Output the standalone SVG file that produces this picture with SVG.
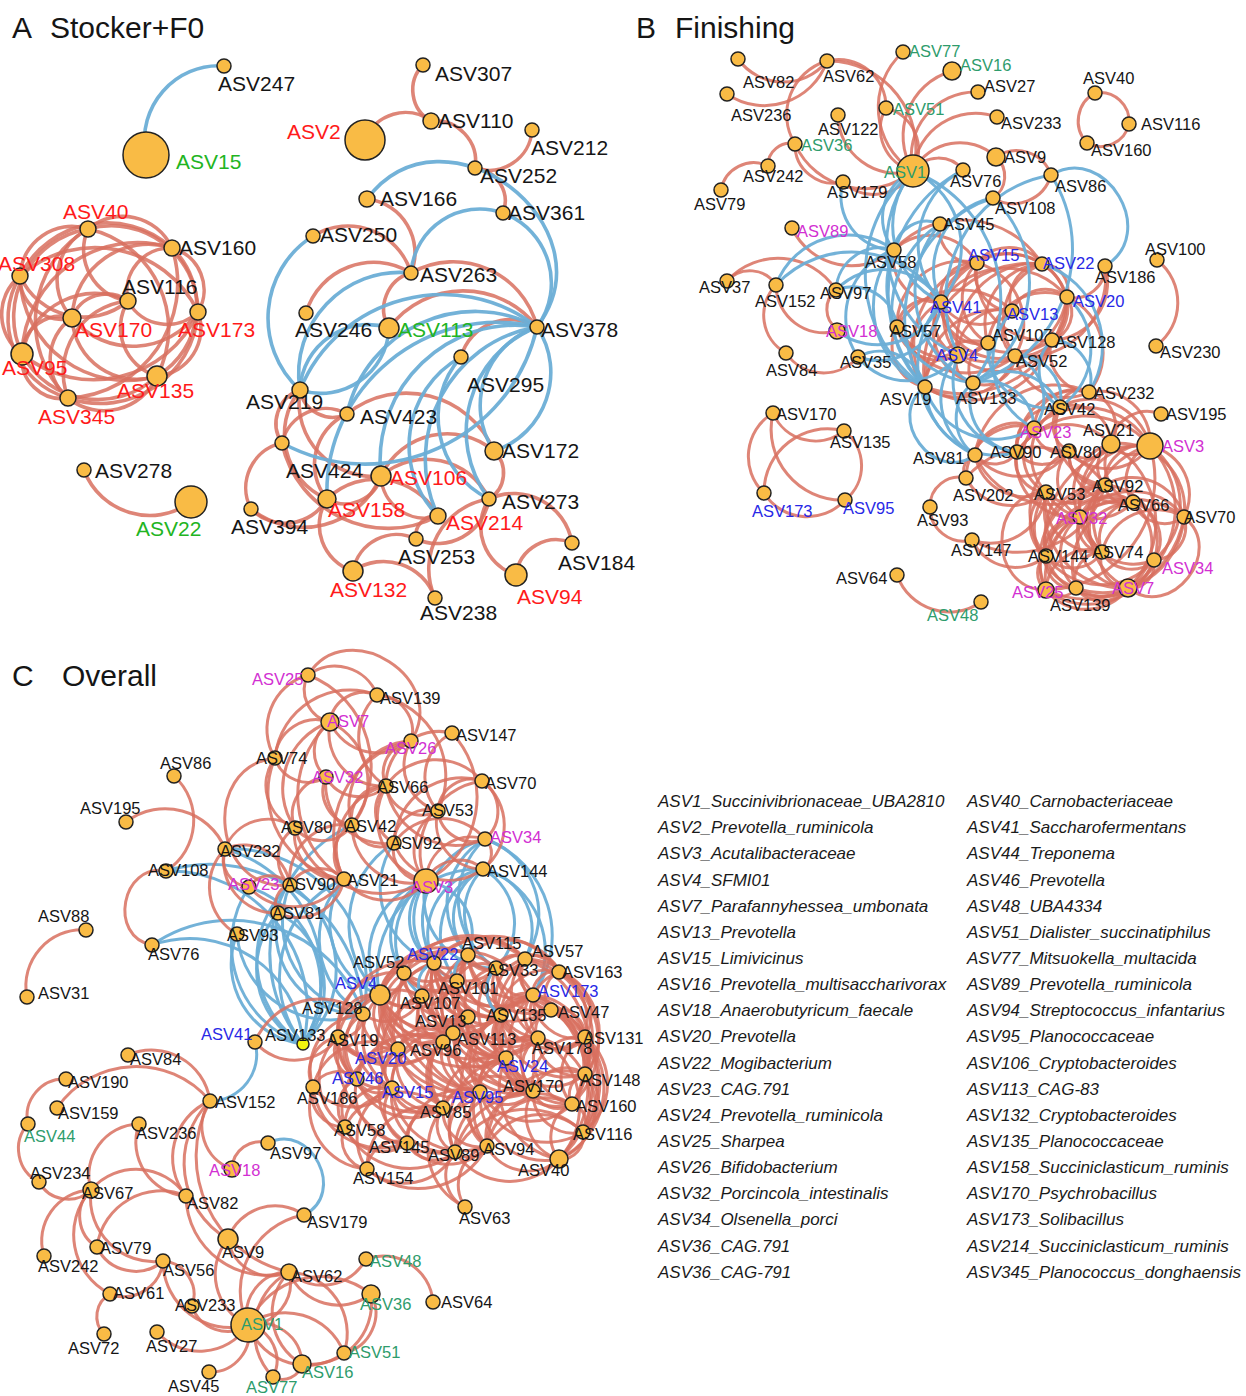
<svg xmlns="http://www.w3.org/2000/svg" xmlns:xlink="http://www.w3.org/1999/xlink" width="1246" height="1396" viewBox="0 0 1246 1396">
<style>
.t{font-family:"Liberation Sans",Arial,sans-serif;fill:#151515}
.ti{font-size:30px}
.la{font-size:21px}
.lb{font-size:16.5px}
.rd{fill:#FF1A1A}.gr{fill:#22B422}.tl{fill:#2E9C6C}.bl{fill:#2828E6}.mg{fill:#D22FD2}
circle{fill:#F9BB45;stroke:#222;stroke-width:1.5}
.er{stroke:#D8705F;stroke-opacity:.85;fill:none}
.eb{stroke:#6BAED6;stroke-opacity:.95;fill:none}
.lg{font-family:"Liberation Sans",Arial,sans-serif;font-style:italic;font-size:17px;fill:#1a1a1a}
</style>
<defs>
<path id="e" d="M0,0 C0.25,0.33 0.75,0.33 1,0" vector-effect="non-scaling-stroke"/>
<path id="g" d="M0,0 C0,0.6 1,0.6 1,0" vector-effect="non-scaling-stroke"/>
</defs>
<rect width="1246" height="1396" fill="#fff"/>
<g id="titles" class="t ti">
<text x="12" y="38">A<tspan x="50">Stocker+F0</tspan></text>
<text x="636" y="38">B<tspan x="675">Finishing</tspan></text>
<text x="12" y="686">C<tspan x="62">Overall</tspan></text>
</g>
<g id="connectors">
<g id="edges-A-red" class="er" stroke-width="3.6">
<use href="#e" transform="matrix(-68,47,-47,-68,88,229)"/>
<use href="#e" transform="matrix(2,78,-78,2,20,276)"/>
<use href="#e" transform="matrix(46,44,-44,46,22,354)"/>
<use href="#e" transform="matrix(89,-22,22,89,68,398)"/>
<use href="#e" transform="matrix(41,-64,64,41,157,376)"/>
<use href="#e" transform="matrix(-26,-64,64,-26,198,312)"/>
<use href="#e" transform="matrix(-84,-19,19,-84,172,248)"/>
<use href="#e" transform="matrix(40,72,-72,40,88,229)"/>
<use href="#e" transform="matrix(-16,89,-89,-16,88,229)"/>
<use href="#e" transform="matrix(-110,-83,83,-110,198,312)"/>
<use href="#e" transform="matrix(-66,125,-125,-66,88,229)"/>
<use href="#e" transform="matrix(-69,-147,147,-69,157,376)"/>
<use href="#e" transform="matrix(-20,169,-169,-20,88,229)"/>
<use href="#e" transform="matrix(-152,28,-28,-152,172,248)"/>
<use href="#e" transform="matrix(-44,53,-53,-44,172,248)"/>
<use href="#e" transform="matrix(-100,70,-70,-100,172,248)"/>
<use href="#e" transform="matrix(-150,106,-106,-150,172,248)"/>
<use href="#e" transform="matrix(15,-128,128,15,157,376)"/>
<use href="#e" transform="matrix(104,-150,150,104,68,398)"/>
<use href="#e" transform="matrix(108,25,-25,108,20,276)"/>
<use href="#e" transform="matrix(52,42,-42,52,20,276)"/>
<use href="#e" transform="matrix(-178,-36,36,-178,198,312)"/>
<use href="#e" transform="matrix(137,100,-100,137,20,276)"/>
<use href="#e" transform="matrix(48,122,-122,48,20,276)"/>
<use href="#e" transform="matrix(-56,17,-17,-56,128,301)"/>
<use href="#e" transform="matrix(70,11,-11,70,128,301)"/>
<use href="#e" transform="matrix(-106,53,-53,-106,128,301)"/>
<use href="#e" transform="matrix(29,75,-75,29,128,301)"/>
<use href="#e" transform="matrix(-60,97,-97,-60,128,301)"/>
<use href="#e" transform="matrix(126,-6,6,126,72,318)"/>
<use href="#e" transform="matrix(-50,36,-36,-50,72,318)"/>
<use href="#e" transform="matrix(85,58,-58,85,72,318)"/>
<use href="#e" transform="matrix(-4,80,-80,-4,72,318)"/>
<use href="#e" transform="matrix(176,-42,42,176,22,354)"/>
<use href="#e" transform="matrix(130,-86,86,130,68,398)"/>
<use href="#e" transform="matrix(135,22,-22,135,22,354)"/>
<use href="#e" transform="matrix(107,32,-32,107,84,470)"/>
<use href="#e" transform="matrix(8,56,-56,8,423,65)"/>
<use href="#e" transform="matrix(-66,19,-19,-66,431,121)"/>
<use href="#e" transform="matrix(-44,-47,47,-44,475,168)"/>
<use href="#e" transform="matrix(57,-38,38,57,475,168)"/>
<use href="#e" transform="matrix(-28,-45,45,-28,503,213)"/>
<use href="#e" transform="matrix(-44,-74,74,-44,411,273)"/>
<use href="#e" transform="matrix(-98,-37,37,-98,411,273)"/>
<use href="#e" transform="matrix(-105,40,-40,-105,411,273)"/>
<use href="#e" transform="matrix(-22,55,-55,-22,411,273)"/>
<use href="#e" transform="matrix(-126,-54,54,-126,537,327)"/>
<use href="#e" transform="matrix(-148,1,-1,-148,537,327)"/>
<use href="#e" transform="matrix(-76,30,-30,-76,537,327)"/>
<use href="#e" transform="matrix(-18,53,-53,-18,300,390)"/>
<use href="#e" transform="matrix(27,109,-109,27,300,390)"/>
<use href="#e" transform="matrix(81,86,-86,81,300,390)"/>
<use href="#e" transform="matrix(47,24,-24,47,300,390)"/>
<use href="#e" transform="matrix(-65,29,-29,-65,347,414)"/>
<use href="#e" transform="matrix(-20,85,-85,-20,347,414)"/>
<use href="#e" transform="matrix(-147,-37,37,-147,494,451)"/>
<use href="#e" transform="matrix(156,73,-73,156,282,443)"/>
<use href="#e" transform="matrix(-31,66,-66,-31,282,443)"/>
<use href="#e" transform="matrix(130,-33,33,130,251,509)"/>
<use href="#e" transform="matrix(54,-23,23,54,327,499)"/>
<use href="#e" transform="matrix(-111,-17,17,-111,438,516)"/>
<use href="#e" transform="matrix(-108,-23,23,-108,489,499)"/>
<use href="#e" transform="matrix(-113,25,-25,-113,494,451)"/>
<use href="#e" transform="matrix(5,-48,48,5,489,499)"/>
<use href="#e" transform="matrix(-83,-44,44,-83,572,543)"/>
<use href="#e" transform="matrix(27,76,-76,27,489,499)"/>
<use href="#e" transform="matrix(-56,32,-32,-56,572,543)"/>
<use href="#e" transform="matrix(-63,32,-32,-63,416,539)"/>
<use href="#e" transform="matrix(73,-40,40,73,416,539)"/>
<use href="#e" transform="matrix(-82,-27,27,-82,435,598)"/>
<use href="#e" transform="matrix(-54,99,-99,-54,489,499)"/>
<use href="#e" transform="matrix(26,72,-72,26,327,499)"/>
<use href="#e" transform="matrix(76,-10,10,76,251,509)"/>
<use href="#e" transform="matrix(-22,23,-23,-22,438,516)"/>
<use href="#e" transform="matrix(57,40,-40,57,381,476)"/>
</g>
<g id="edges-A-blue" class="eb" stroke-width="3.6">
<use href="#e" transform="matrix(-78,89,-89,-78,224,66)"/>
<use href="#g" transform="matrix(-170,-128,128,-170,537,327)"/>
<use href="#e" transform="matrix(-92,60,-60,-92,503,213)"/>
<use href="#e" transform="matrix(-34,-114,114,-34,537,327)"/>
<use href="#e" transform="matrix(-13,154,-154,-13,313,236)"/>
<use href="#e" transform="matrix(-89,62,-62,-89,389,328)"/>
<use href="#e" transform="matrix(89,-62,62,89,300,390)"/>
<use href="#e" transform="matrix(-111,117,-117,-111,411,273)"/>
<use href="#e" transform="matrix(-237,63,-63,-237,537,327)"/>
<use href="#e" transform="matrix(255,-116,116,255,282,443)"/>
<use href="#e" transform="matrix(-210,172,-172,-210,537,327)"/>
<use href="#e" transform="matrix(-156,149,-149,-156,537,327)"/>
<use href="#e" transform="matrix(-99,189,-189,-99,537,327)"/>
<use href="#e" transform="matrix(-48,172,-172,-48,537,327)"/>
<use href="#e" transform="matrix(43,-124,124,43,494,451)"/>
<use href="#e" transform="matrix(-43,124,-124,-43,537,327)"/>
<use href="#e" transform="matrix(-190,87,-87,-190,537,327)"/>
<use href="#e" transform="matrix(28,142,-142,28,461,357)"/>
<use href="#e" transform="matrix(-23,159,-159,-23,461,357)"/>
</g>
<g id="edges-B-red" class="er" stroke-width="3">
<use href="#e" transform="matrix(10,119,-119,10,903,52)"/>
<use href="#e" transform="matrix(-39,100,-100,-39,952,71)"/>
<use href="#e" transform="matrix(-65,79,-79,-65,978,92)"/>
<use href="#e" transform="matrix(-84,54,-54,-84,997,117)"/>
<use href="#e" transform="matrix(-27,-63,63,-27,913,171)"/>
<use href="#e" transform="matrix(27,63,-63,27,886,108)"/>
<use href="#e" transform="matrix(75,56,-56,75,838,115)"/>
<use href="#e" transform="matrix(118,27,-27,118,795,144)"/>
<use href="#e" transform="matrix(-86,-110,110,-86,913,171)"/>
<use href="#e" transform="matrix(-59,-47,47,-59,886,108)"/>
<use href="#e" transform="matrix(89,2,-2,89,738,59)"/>
<use href="#e" transform="matrix(100,-33,33,100,727,94)"/>
<use href="#e" transform="matrix(-32,83,-83,-32,827,61)"/>
<use href="#e" transform="matrix(70,-11,11,70,843,182)"/>
<use href="#e" transform="matrix(48,38,-38,48,795,144)"/>
<use href="#e" transform="matrix(-27,22,-22,-27,795,144)"/>
<use href="#e" transform="matrix(-47,24,-24,-47,768,166)"/>
<use href="#e" transform="matrix(-83,14,-14,-83,996,157)"/>
<use href="#e" transform="matrix(-50,1,-1,-50,963,170)"/>
<use href="#e" transform="matrix(-55,-18,18,-55,1051,175)"/>
<use href="#e" transform="matrix(58,-23,23,58,993,198)"/>
<use href="#e" transform="matrix(3,-41,41,3,993,198)"/>
<use href="#e" transform="matrix(-34,-31,31,-34,1129,124)"/>
<use href="#e" transform="matrix(-8,50,-50,-8,1095,93)"/>
<use href="#e" transform="matrix(42,-19,19,42,1087,143)"/>
<use href="#e" transform="matrix(1,-86,86,1,1156,346)"/>
<use href="#e" transform="matrix(102,22,-22,102,792,228)"/>
<use href="#e" transform="matrix(-49,-4,4,-49,776,285)"/>
<use href="#e" transform="matrix(10,68,-68,10,776,285)"/>
<use href="#e" transform="matrix(72,4,-4,72,786,353)"/>
<use href="#e" transform="matrix(61,46,-46,61,776,285)"/>
<use href="#e" transform="matrix(1,39,-39,1,836,290)"/>
<use href="#e" transform="matrix(-109,-9,9,-109,836,290)"/>
<use href="#e" transform="matrix(71,18,-18,71,773,413)"/>
<use href="#e" transform="matrix(-9,80,-80,-9,773,413)"/>
<use href="#e" transform="matrix(72,87,-87,72,773,413)"/>
<use href="#e" transform="matrix(-80,62,-62,-80,844,431)"/>
<use href="#e" transform="matrix(81,7,-7,81,764,493)"/>
<use href="#e" transform="matrix(-1,-69,69,-1,845,500)"/>
<use href="#e" transform="matrix(84,27,-27,84,897,575)"/>
<use href="#e" transform="matrix(-65,-1,1,-65,1042,264)"/>
<use href="#e" transform="matrix(-90,-34,34,-90,1067,297)"/>
<use href="#e" transform="matrix(-36,39,-39,-36,977,263)"/>
<use href="#e" transform="matrix(35,48,-48,35,977,263)"/>
<use href="#e" transform="matrix(-80,64,-64,-80,977,263)"/>
<use href="#e" transform="matrix(11,80,-80,11,977,263)"/>
<use href="#e" transform="matrix(75,77,-77,75,977,263)"/>
<use href="#e" transform="matrix(-19,92,-92,-19,977,263)"/>
<use href="#e" transform="matrix(-38,-93,93,-38,1015,356)"/>
<use href="#e" transform="matrix(-52,124,-124,-52,977,263)"/>
<use href="#e" transform="matrix(-25,-33,33,-25,1067,297)"/>
<use href="#e" transform="matrix(-101,38,-38,-101,1042,264)"/>
<use href="#e" transform="matrix(-30,47,-47,-30,1042,264)"/>
<use href="#e" transform="matrix(-54,79,-79,-54,1042,264)"/>
<use href="#e" transform="matrix(-10,-76,76,-10,1052,340)"/>
<use href="#e" transform="matrix(-84,91,-91,-84,1042,264)"/>
<use href="#e" transform="matrix(-27,92,-92,-27,1042,264)"/>
<use href="#e" transform="matrix(-117,123,-123,-117,1042,264)"/>
<use href="#e" transform="matrix(-126,5,-5,-126,1067,297)"/>
<use href="#e" transform="matrix(-55,14,-14,-55,1067,297)"/>
<use href="#e" transform="matrix(-79,46,-46,-79,1067,297)"/>
<use href="#e" transform="matrix(109,-58,58,109,958,355)"/>
<use href="#e" transform="matrix(52,-59,59,52,1015,356)"/>
<use href="#e" transform="matrix(142,-90,90,142,925,387)"/>
<use href="#e" transform="matrix(15,-43,43,15,1052,340)"/>
<use href="#e" transform="matrix(71,9,-9,71,941,302)"/>
<use href="#e" transform="matrix(-44,25,-25,-44,941,302)"/>
<use href="#e" transform="matrix(47,41,-41,47,941,302)"/>
<use href="#e" transform="matrix(111,38,-38,111,941,302)"/>
<use href="#e" transform="matrix(17,53,-53,17,941,302)"/>
<use href="#e" transform="matrix(74,54,-54,74,941,302)"/>
<use href="#e" transform="matrix(-16,85,-85,-16,941,302)"/>
<use href="#e" transform="matrix(32,81,-81,32,941,302)"/>
<use href="#e" transform="matrix(-115,16,-16,-115,1012,311)"/>
<use href="#e" transform="matrix(-54,44,-44,-54,1012,311)"/>
<use href="#e" transform="matrix(-87,76,-76,-87,1012,311)"/>
<use href="#e" transform="matrix(3,45,-45,3,1012,311)"/>
<use href="#e" transform="matrix(91,16,-16,91,897,327)"/>
<use href="#e" transform="matrix(61,28,-28,61,897,327)"/>
<use href="#e" transform="matrix(118,29,-29,118,897,327)"/>
<use href="#e" transform="matrix(28,60,-60,28,897,327)"/>
<use href="#e" transform="matrix(-63,44,-44,-63,988,343)"/>
<use href="#e" transform="matrix(-15,40,-40,-15,988,343)"/>
<use href="#e" transform="matrix(-33,32,-32,-33,958,355)"/>
<use href="#e" transform="matrix(94,-15,15,94,958,355)"/>
<use href="#e" transform="matrix(15,28,-28,15,958,355)"/>
<use href="#e" transform="matrix(90,-31,31,90,925,387)"/>
<use href="#e" transform="matrix(127,-47,47,127,925,387)"/>
<use href="#e" transform="matrix(42,-27,27,42,973,383)"/>
<use href="#e" transform="matrix(-83,-13,13,-83,977,263)"/>
<use href="#e" transform="matrix(-148,-14,14,-148,1042,264)"/>
<use href="#e" transform="matrix(47,52,-52,47,894,250)"/>
<use href="#e" transform="matrix(53,-74,74,53,1052,340)"/>
<use href="#e" transform="matrix(90,-90,90,90,1015,356)"/>
<use href="#e" transform="matrix(38,-31,31,38,1067,297)"/>
<use href="#e" transform="matrix(37,39,-39,37,940,224)"/>
<use href="#e" transform="matrix(37,52,-52,37,1052,340)"/>
<use href="#e" transform="matrix(74,36,-36,74,1015,356)"/>
<use href="#e" transform="matrix(-22,-95,95,-22,1089,392)"/>
<use href="#e" transform="matrix(-50,30,-30,-50,1161,414)"/>
<use href="#e" transform="matrix(-29,15,-15,-29,1089,392)"/>
<use href="#e" transform="matrix(-55,36,-36,-55,1089,392)"/>
<use href="#e" transform="matrix(-72,60,-60,-72,1089,392)"/>
<use href="#e" transform="matrix(-22,-52,52,-22,1111,444)"/>
<use href="#e" transform="matrix(-61,-54,54,-61,1150,446)"/>
<use href="#e" transform="matrix(-114,63,-63,-114,1089,392)"/>
<use href="#e" transform="matrix(-51,-37,37,-51,1111,444)"/>
<use href="#e" transform="matrix(-90,-39,39,-90,1150,446)"/>
<use href="#e" transform="matrix(9,44,-44,9,1060,407)"/>
<use href="#e" transform="matrix(-14,85,-85,-14,1060,407)"/>
<use href="#e" transform="matrix(45,78,-78,45,1060,407)"/>
<use href="#e" transform="matrix(-59,27,-27,-59,1034,428)"/>
<use href="#e" transform="matrix(35,23,-23,35,1034,428)"/>
<use href="#e" transform="matrix(12,64,-64,12,1034,428)"/>
<use href="#e" transform="matrix(-116,-18,18,-116,1150,446)"/>
<use href="#e" transform="matrix(-68,50,-50,-68,1034,428)"/>
<use href="#e" transform="matrix(42,-3,3,42,975,455)"/>
<use href="#e" transform="matrix(94,-4,4,94,975,455)"/>
<use href="#e" transform="matrix(71,37,-37,71,975,455)"/>
<use href="#e" transform="matrix(-9,23,-23,-9,975,455)"/>
<use href="#e" transform="matrix(130,30,-30,130,975,455)"/>
<use href="#e" transform="matrix(52,-1,1,52,1017,452)"/>
<use href="#e" transform="matrix(29,40,-40,29,1017,452)"/>
<use href="#e" transform="matrix(-94,8,-8,-94,1111,444)"/>
<use href="#e" transform="matrix(-133,6,-6,-133,1150,446)"/>
<use href="#e" transform="matrix(63,65,-65,63,1017,452)"/>
<use href="#e" transform="matrix(42,-7,7,42,1069,451)"/>
<use href="#e" transform="matrix(81,-5,5,81,1069,451)"/>
<use href="#e" transform="matrix(36,34,-34,36,1069,451)"/>
<use href="#e" transform="matrix(64,51,-51,64,1069,451)"/>
<use href="#e" transform="matrix(11,66,-66,11,1069,451)"/>
<use href="#e" transform="matrix(-23,105,-105,-23,1069,451)"/>
<use href="#e" transform="matrix(39,2,-2,39,1111,444)"/>
<use href="#e" transform="matrix(-6,41,-41,-6,1111,444)"/>
<use href="#e" transform="matrix(22,58,-58,22,1111,444)"/>
<use href="#e" transform="matrix(-73,-73,73,-73,1184,517)"/>
<use href="#e" transform="matrix(-9,108,-108,-9,1111,444)"/>
<use href="#e" transform="matrix(-31,73,-73,-31,1111,444)"/>
<use href="#e" transform="matrix(-17,-144,144,-17,1128,588)"/>
<use href="#e" transform="matrix(-45,39,-39,-45,1150,446)"/>
<use href="#e" transform="matrix(-17,56,-56,-17,1150,446)"/>
<use href="#e" transform="matrix(-34,-71,71,-34,1184,517)"/>
<use href="#e" transform="matrix(-4,-114,114,-4,1154,560)"/>
<use href="#e" transform="matrix(22,-142,142,22,1128,588)"/>
<use href="#e" transform="matrix(-48,106,-106,-48,1150,446)"/>
<use href="#e" transform="matrix(-70,71,-71,-70,1150,446)"/>
<use href="#e" transform="matrix(-104,110,-110,-104,1150,446)"/>
<use href="#e" transform="matrix(104,-144,144,104,1046,590)"/>
<use href="#e" transform="matrix(-36,29,-29,-36,966,478)"/>
<use href="#e" transform="matrix(80,14,-14,80,966,478)"/>
<use href="#e" transform="matrix(-139,-7,7,-139,1105,485)"/>
<use href="#e" transform="matrix(74,-48,48,74,972,540)"/>
<use href="#e" transform="matrix(133,-55,55,133,972,540)"/>
<use href="#e" transform="matrix(42,33,-33,42,930,507)"/>
<use href="#e" transform="matrix(59,-7,7,59,1046,492)"/>
<use href="#e" transform="matrix(87,10,-10,87,1046,492)"/>
<use href="#e" transform="matrix(34,25,-25,34,1046,492)"/>
<use href="#e" transform="matrix(0,64,-64,0,1046,492)"/>
<use href="#e" transform="matrix(56,60,-60,56,1046,492)"/>
<use href="#g" transform="matrix(0,98,-98,0,1046,492)"/>
<use href="#e" transform="matrix(82,96,-96,82,1046,492)"/>
<use href="#e" transform="matrix(30,96,-96,30,1046,492)"/>
<use href="#e" transform="matrix(28,17,-17,28,1105,485)"/>
<use href="#e" transform="matrix(-25,32,-32,-25,1105,485)"/>
<use href="#e" transform="matrix(-3,67,-67,-3,1105,485)"/>
<use href="#e" transform="matrix(-49,-75,75,-49,1154,560)"/>
<use href="#e" transform="matrix(-59,71,-71,-59,1105,485)"/>
<use href="#e" transform="matrix(-79,-32,32,-79,1184,517)"/>
<use href="#e" transform="matrix(23,103,-103,23,1105,485)"/>
<use href="#e" transform="matrix(-59,105,-105,-59,1105,485)"/>
<use href="#e" transform="matrix(-53,15,-15,-53,1133,502)"/>
<use href="#e" transform="matrix(51,15,-15,51,1133,502)"/>
<use href="#e" transform="matrix(-31,50,-50,-31,1133,502)"/>
<use href="#e" transform="matrix(-21,-58,58,-21,1154,560)"/>
<use href="#e" transform="matrix(-86,54,-54,-86,1133,502)"/>
<use href="#e" transform="matrix(5,-86,86,5,1128,588)"/>
<use href="#e" transform="matrix(-57,86,-86,-57,1133,502)"/>
<use href="#e" transform="matrix(-87,88,-88,-87,1133,502)"/>
<use href="#e" transform="matrix(22,35,-35,22,1080,517)"/>
<use href="#e" transform="matrix(-34,39,-39,-34,1080,517)"/>
<use href="#e" transform="matrix(74,43,-43,74,1080,517)"/>
<use href="#e" transform="matrix(48,71,-71,48,1080,517)"/>
<use href="#e" transform="matrix(-34,73,-73,-34,1080,517)"/>
<use href="#e" transform="matrix(-4,71,-71,-4,1080,517)"/>
<use href="#e" transform="matrix(-104,0,0,-104,1184,517)"/>
<use href="#e" transform="matrix(30,-43,43,30,1154,560)"/>
<use href="#g" transform="matrix(56,-71,71,56,1128,588)"/>
<use href="#e" transform="matrix(-138,39,-39,-138,1184,517)"/>
<use href="#e" transform="matrix(-82,35,-35,-82,1184,517)"/>
<use href="#e" transform="matrix(108,-71,71,108,1076,588)"/>
<use href="#e" transform="matrix(138,-73,73,138,1046,590)"/>
<use href="#e" transform="matrix(56,-4,4,56,1046,556)"/>
<use href="#e" transform="matrix(108,4,-4,108,1046,556)"/>
<use href="#e" transform="matrix(0,34,-34,0,1046,556)"/>
<use href="#e" transform="matrix(30,32,-32,30,1046,556)"/>
<use href="#e" transform="matrix(82,32,-32,82,1046,556)"/>
<use href="#e" transform="matrix(52,8,-8,52,1102,552)"/>
<use href="#e" transform="matrix(26,36,-36,26,1102,552)"/>
<use href="#e" transform="matrix(-56,38,-38,-56,1102,552)"/>
<use href="#e" transform="matrix(-26,36,-36,-26,1102,552)"/>
<use href="#e" transform="matrix(26,-28,28,26,1128,588)"/>
<use href="#e" transform="matrix(108,-30,30,108,1046,590)"/>
<use href="#e" transform="matrix(78,-28,28,78,1076,588)"/>
<use href="#e" transform="matrix(30,-2,2,30,1046,590)"/>
<use href="#e" transform="matrix(82,-2,2,82,1046,590)"/>
<use href="#e" transform="matrix(52,0,0,52,1076,588)"/>
<use href="#e" transform="matrix(74,16,-16,74,972,540)"/>
<use href="#e" transform="matrix(-17,24,-24,-17,1034,428)"/>
<use href="#e" transform="matrix(-43,45,-45,-43,1060,407)"/>
</g>
<g id="edges-B-blue" class="eb" stroke-width="3">
<use href="#e" transform="matrix(-19,79,-79,-19,913,171)"/>
<use href="#e" transform="matrix(51,68,-68,51,843,182)"/>
<use href="#e" transform="matrix(28,131,-131,28,913,171)"/>
<use href="#e" transform="matrix(-28,-131,131,-28,941,302)"/>
<use href="#e" transform="matrix(45,184,-184,45,913,171)"/>
<use href="#e" transform="matrix(12,216,-216,12,913,171)"/>
<use href="#e" transform="matrix(-60,-212,212,-60,973,383)"/>
<use href="#e" transform="matrix(-22,132,-132,-22,963,170)"/>
<use href="#e" transform="matrix(-38,217,-217,-38,963,170)"/>
<use href="#e" transform="matrix(-52,104,-104,-52,993,198)"/>
<use href="#e" transform="matrix(-68,189,-189,-68,993,198)"/>
<use href="#e" transform="matrix(20,-185,185,20,973,383)"/>
<use href="#e" transform="matrix(-93,180,-180,-93,1051,175)"/>
<use href="#e" transform="matrix(78,-208,208,78,973,383)"/>
<use href="#g" transform="matrix(-54,-91,91,-54,1105,266)"/>
<use href="#e" transform="matrix(-15,163,-163,-15,940,224)"/>
<use href="#e" transform="matrix(33,159,-159,33,940,224)"/>
<use href="#e" transform="matrix(-46,26,-26,-46,940,224)"/>
<use href="#e" transform="matrix(-58,40,-40,-58,894,250)"/>
<use href="#e" transform="matrix(-118,35,-35,-118,894,250)"/>
<use href="#e" transform="matrix(-36,107,-107,-36,894,250)"/>
<use href="#e" transform="matrix(31,137,-137,31,894,250)"/>
<use href="#e" transform="matrix(79,133,-133,79,894,250)"/>
<use href="#e" transform="matrix(-105,-12,12,-105,941,302)"/>
<use href="#e" transform="matrix(-165,-17,17,-165,941,302)"/>
<use href="#e" transform="matrix(83,-55,55,83,858,357)"/>
<use href="#e" transform="matrix(104,-29,29,104,837,331)"/>
<use href="#e" transform="matrix(-61,-37,37,-61,897,327)"/>
<use href="#e" transform="matrix(100,-2,2,100,858,357)"/>
<use href="#e" transform="matrix(-67,-30,30,-67,925,387)"/>
<use href="#g" transform="matrix(50,68,-68,50,925,387)"/>
<use href="#e" transform="matrix(2,72,-72,2,973,383)"/>
<use href="#e" transform="matrix(-61,-45,45,-61,1034,428)"/>
<use href="#e" transform="matrix(-87,-24,24,-87,1060,407)"/>
<use href="#e" transform="matrix(-45,-51,51,-45,1060,407)"/>
<use href="#e" transform="matrix(-37,-52,52,-37,1089,392)"/>
<use href="#e" transform="matrix(7,-110,110,7,1060,407)"/>
<use href="#e" transform="matrix(22,117,-117,22,1012,311)"/>
<use href="#e" transform="matrix(17,100,-100,17,958,355)"/>
<use href="#e" transform="matrix(72,64,-64,72,988,343)"/>
<use href="#e" transform="matrix(109,41,-41,109,925,387)"/>
<use href="#e" transform="matrix(92,65,-65,92,925,387)"/>
<use href="#e" transform="matrix(59,97,-97,59,958,355)"/>
<use href="#e" transform="matrix(34,153,-153,34,941,302)"/>
<use href="#e" transform="matrix(-19,-72,72,-19,1034,428)"/>
<use href="#e" transform="matrix(44,69,-69,44,973,383)"/>
<use href="#e" transform="matrix(8,67,-67,8,1052,340)"/>
<use href="#e" transform="matrix(-47,-128,128,-47,1089,392)"/>
</g>
<g id="edges-C-blue" class="eb" stroke-width="3">
<use href="#e" transform="matrix(-137,-173,173,-137,303,1044)"/>
<use href="#e" transform="matrix(-197,-143,143,-197,363,1014)"/>
<use href="#e" transform="matrix(-211,-69,69,-211,363,1014)"/>
<use href="#e" transform="matrix(-151,-99,99,-151,303,1044)"/>
<use href="#e" transform="matrix(-78,-195,195,-78,303,1044)"/>
<use href="#e" transform="matrix(-138,-165,165,-138,363,1014)"/>
<use href="#e" transform="matrix(54,157,-157,54,249,887)"/>
<use href="#e" transform="matrix(-54,-157,157,-54,303,1044)"/>
<use href="#e" transform="matrix(13,159,-159,13,290,885)"/>
<use href="#e" transform="matrix(-13,-159,159,-13,303,1044)"/>
<use href="#e" transform="matrix(73,129,-129,73,290,885)"/>
<use href="#e" transform="matrix(25,131,-131,25,278,913)"/>
<use href="#e" transform="matrix(-25,-131,131,-25,303,1044)"/>
<use href="#e" transform="matrix(85,101,-101,85,278,913)"/>
<use href="#e" transform="matrix(66,110,-110,66,237,934)"/>
<use href="#e" transform="matrix(126,80,-80,126,237,934)"/>
<use href="#e" transform="matrix(19,135,-135,19,344,879)"/>
<use href="#e" transform="matrix(36,116,-116,36,344,879)"/>
<use href="#e" transform="matrix(-41,165,-165,-41,344,879)"/>
<use href="#e" transform="matrix(-49,219,-219,-49,352,825)"/>
<use href="#e" transform="matrix(8,82,-82,8,426,881)"/>
<use href="#e" transform="matrix(-46,114,-114,-46,426,881)"/>
<use href="#e" transform="matrix(-22,92,-92,-22,426,881)"/>
<use href="#e" transform="matrix(-42,-74,74,-42,468,955)"/>
<use href="#e" transform="matrix(31,100,-100,31,426,881)"/>
<use href="#e" transform="matrix(70,87,-87,70,426,881)"/>
<use href="#e" transform="matrix(-4,115,-115,-4,426,881)"/>
<use href="#e" transform="matrix(-49,94,-94,-49,483,869)"/>
<use href="#e" transform="matrix(-15,86,-86,-15,483,869)"/>
<use href="#e" transform="matrix(-42,-90,90,-42,525,959)"/>
<use href="#e" transform="matrix(13,99,-99,13,483,869)"/>
<use href="#e" transform="matrix(-13,-99,99,-13,496,968)"/>
<use href="#e" transform="matrix(-26,112,-112,-26,483,869)"/>
<use href="#e" transform="matrix(-103,126,-126,-103,483,869)"/>
<use href="#e" transform="matrix(-50,-126,126,-50,533,995)"/>
<use href="#e" transform="matrix(-40,-120,120,-40,525,959)"/>
<use href="#e" transform="matrix(-17,116,-116,-17,485,839)"/>
<use href="#e" transform="matrix(11,129,-129,11,485,839)"/>
<use href="#e" transform="matrix(-51,124,-124,-51,485,839)"/>
<use href="#e" transform="matrix(-48,-156,156,-48,533,995)"/>
<use href="#e" transform="matrix(-14,152,-152,-14,394,843)"/>
<use href="#e" transform="matrix(40,120,-120,40,394,843)"/>
<use href="#e" transform="matrix(45,-59,59,45,210,1101)"/>
<use href="#g" transform="matrix(-36,-72,72,-36,304,1215)"/>
</g>
<g id="edges-C-red" class="er" stroke-width="3">
<use href="#e" transform="matrix(-69,-20,20,-69,377,695)"/>
<use href="#g" transform="matrix(-103,-66,66,-103,411,741)"/>
<use href="#e" transform="matrix(22,47,-47,22,308,675)"/>
<use href="#e" transform="matrix(-33,83,-83,-33,308,675)"/>
<use href="#e" transform="matrix(-44,-150,150,-44,352,825)"/>
<use href="#e" transform="matrix(-47,27,-27,-47,377,695)"/>
<use href="#e" transform="matrix(-102,63,-63,-102,377,695)"/>
<use href="#e" transform="matrix(-34,-46,46,-34,411,741)"/>
<use href="#e" transform="matrix(9,91,-91,9,377,695)"/>
<use href="#e" transform="matrix(-61,-116,116,-61,438,811)"/>
<use href="#e" transform="matrix(-55,36,-36,-55,330,722)"/>
<use href="#e" transform="matrix(-4,55,-55,-4,330,722)"/>
<use href="#e" transform="matrix(56,64,-64,56,330,722)"/>
<use href="#e" transform="matrix(-22,-103,103,-22,352,825)"/>
<use href="#e" transform="matrix(81,19,-19,81,330,722)"/>
<use href="#e" transform="matrix(-35,106,-106,-35,330,722)"/>
<use href="#e" transform="matrix(14,157,-157,14,330,722)"/>
<use href="#e" transform="matrix(-66,53,-53,-66,452,733)"/>
<use href="#e" transform="matrix(-14,78,-78,-14,452,733)"/>
<use href="#e" transform="matrix(26,-148,148,26,426,881)"/>
<use href="#e" transform="matrix(27,70,-70,27,411,741)"/>
<use href="#e" transform="matrix(-25,45,-45,-25,411,741)"/>
<use href="#e" transform="matrix(-59,84,-84,-59,411,741)"/>
<use href="#e" transform="matrix(-67,138,-138,-67,411,741)"/>
<use href="#e" transform="matrix(51,19,-19,51,275,758)"/>
<use href="#e" transform="matrix(20,70,-70,20,275,758)"/>
<use href="#e" transform="matrix(69,121,-121,69,275,758)"/>
<use href="#g" transform="matrix(15,127,-127,15,275,758)"/>
<use href="#e" transform="matrix(60,9,-9,60,326,777)"/>
<use href="#e" transform="matrix(26,48,-48,26,326,777)"/>
<use href="#e" transform="matrix(-31,51,-51,-31,326,777)"/>
<use href="#e" transform="matrix(68,66,-66,68,326,777)"/>
<use href="#e" transform="matrix(52,25,-25,52,386,786)"/>
<use href="#e" transform="matrix(-96,5,-5,-96,482,781)"/>
<use href="#e" transform="matrix(8,57,-57,8,386,786)"/>
<use href="#e" transform="matrix(-34,39,-39,-34,386,786)"/>
<use href="#e" transform="matrix(40,95,-95,40,386,786)"/>
<use href="#e" transform="matrix(99,53,-53,99,386,786)"/>
<use href="#e" transform="matrix(-42,93,-93,-42,386,786)"/>
<use href="#e" transform="matrix(-44,30,-30,-44,482,781)"/>
<use href="#e" transform="matrix(-88,62,-62,-88,482,781)"/>
<use href="#e" transform="matrix(-3,-58,58,-3,485,839)"/>
<use href="#e" transform="matrix(-56,100,-100,-56,482,781)"/>
<use href="#e" transform="matrix(-1,-88,88,-1,483,869)"/>
<use href="#e" transform="matrix(-44,32,-32,-44,438,811)"/>
<use href="#e" transform="matrix(-12,70,-70,-12,438,811)"/>
<use href="#e" transform="matrix(47,28,-28,47,438,811)"/>
<use href="#e" transform="matrix(45,58,-58,45,438,811)"/>
<use href="#e" transform="matrix(57,-3,3,57,295,828)"/>
<use href="#e" transform="matrix(49,51,-51,49,295,828)"/>
<use href="#e" transform="matrix(-5,57,-57,-5,295,828)"/>
<use href="#e" transform="matrix(-70,21,-21,-70,295,828)"/>
<use href="#e" transform="matrix(131,53,-53,131,295,828)"/>
<use href="#e" transform="matrix(-8,54,-54,-8,352,825)"/>
<use href="#e" transform="matrix(42,18,-18,42,352,825)"/>
<use href="#e" transform="matrix(74,56,-56,74,352,825)"/>
<use href="#e" transform="matrix(-62,60,-60,-62,352,825)"/>
<use href="#e" transform="matrix(-91,4,-4,-91,485,839)"/>
<use href="#e" transform="matrix(32,38,-38,32,394,843)"/>
<use href="#e" transform="matrix(89,26,-26,89,394,843)"/>
<use href="#e" transform="matrix(2,-30,30,2,483,869)"/>
<use href="#e" transform="matrix(-59,42,-42,-59,485,839)"/>
<use href="#e" transform="matrix(-57,12,-12,-57,483,869)"/>
<use href="#e" transform="matrix(-54,6,-6,-54,344,879)"/>
<use href="#e" transform="matrix(95,-8,8,95,249,887)"/>
<use href="#e" transform="matrix(82,2,-2,82,344,879)"/>
<use href="#e" transform="matrix(-41,2,-2,-41,290,885)"/>
<use href="#e" transform="matrix(-12,28,-28,-12,290,885)"/>
<use href="#e" transform="matrix(24,38,-38,24,225,849)"/>
<use href="#e" transform="matrix(53,64,-64,53,225,849)"/>
<use href="#e" transform="matrix(-65,-36,36,-65,290,885)"/>
<use href="#e" transform="matrix(66,-34,34,66,278,913)"/>
<use href="#e" transform="matrix(-99,-27,27,-99,225,849)"/>
<use href="#e" transform="matrix(8,-95,95,8,166,871)"/>
<use href="#g" transform="matrix(-14,74,-74,-14,166,871)"/>
<use href="#e" transform="matrix(-59,67,-67,-59,86,930)"/>
<use href="#e" transform="matrix(12,85,-85,12,225,849)"/>
<use href="#e" transform="matrix(-54,32,-32,-54,434,963)"/>
<use href="#e" transform="matrix(24,-22,22,24,380,995)"/>
<use href="#e" transform="matrix(-88,40,-40,-88,468,955)"/>
<use href="#e" transform="matrix(-145,36,-36,-145,525,959)"/>
<use href="#e" transform="matrix(-116,27,-27,-116,496,968)"/>
<use href="#e" transform="matrix(77,-14,14,77,380,995)"/>
<use href="#e" transform="matrix(42,1,-1,42,380,995)"/>
<use href="#e" transform="matrix(88,22,-22,88,380,995)"/>
<use href="#e" transform="matrix(121,20,-20,121,380,995)"/>
<use href="#e" transform="matrix(73,38,-38,73,380,995)"/>
<use href="#e" transform="matrix(63,47,-47,63,380,995)"/>
<use href="#e" transform="matrix(18,54,-54,18,380,995)"/>
<use href="#e" transform="matrix(12,93,-93,12,380,995)"/>
<use href="#e" transform="matrix(100,97,-97,100,380,995)"/>
<use href="#e" transform="matrix(126,63,-63,126,380,995)"/>
<use href="#e" transform="matrix(153,96,-96,153,380,995)"/>
<use href="#e" transform="matrix(158,43,-43,158,380,995)"/>
<use href="#e" transform="matrix(-17,19,-19,-17,380,995)"/>
<use href="#e" transform="matrix(-42,42,-42,-42,380,995)"/>
<use href="#e" transform="matrix(-23,84,-84,-23,380,995)"/>
<use href="#e" transform="matrix(34,-8,8,34,434,963)"/>
<use href="#e" transform="matrix(-91,4,-4,-91,525,959)"/>
<use href="#e" transform="matrix(62,5,-5,62,434,963)"/>
<use href="#e" transform="matrix(-125,-9,9,-125,559,972)"/>
<use href="#e" transform="matrix(23,18,-18,23,434,963)"/>
<use href="#e" transform="matrix(99,32,-32,99,434,963)"/>
<use href="#e" transform="matrix(34,54,-54,34,434,963)"/>
<use href="#e" transform="matrix(67,52,-52,67,434,963)"/>
<use href="#e" transform="matrix(117,47,-47,117,434,963)"/>
<use href="#e" transform="matrix(19,70,-70,19,434,963)"/>
<use href="#e" transform="matrix(104,75,-75,104,434,963)"/>
<use href="#e" transform="matrix(99,128,-128,99,434,963)"/>
<use href="#e" transform="matrix(72,95,-95,72,434,963)"/>
<use href="#e" transform="matrix(-42,125,-125,-42,434,963)"/>
<use href="#e" transform="matrix(-36,86,-86,-36,434,963)"/>
<use href="#e" transform="matrix(-96,74,-74,-96,434,963)"/>
<use href="#e" transform="matrix(64,-18,18,64,404,973)"/>
<use href="#e" transform="matrix(-121,14,-14,-121,525,959)"/>
<use href="#e" transform="matrix(92,-5,5,92,404,973)"/>
<use href="#e" transform="matrix(53,8,-8,53,404,973)"/>
<use href="#e" transform="matrix(18,23,-23,18,404,973)"/>
<use href="#e" transform="matrix(64,44,-44,64,404,973)"/>
<use href="#e" transform="matrix(-129,-22,22,-129,533,995)"/>
<use href="#e" transform="matrix(-6,76,-76,-6,404,973)"/>
<use href="#e" transform="matrix(-66,64,-64,-66,404,973)"/>
<use href="#e" transform="matrix(76,119,-119,76,404,973)"/>
<use href="#e" transform="matrix(57,4,-4,57,468,955)"/>
<use href="#e" transform="matrix(28,13,-13,28,468,955)"/>
<use href="#e" transform="matrix(-91,-17,17,-91,559,972)"/>
<use href="#e" transform="matrix(65,40,-40,65,468,955)"/>
<use href="#e" transform="matrix(0,62,-62,0,468,955)"/>
<use href="#e" transform="matrix(33,60,-60,33,468,955)"/>
<use href="#e" transform="matrix(83,55,-55,83,468,955)"/>
<use href="#e" transform="matrix(-15,78,-78,-15,468,955)"/>
<use href="#e" transform="matrix(38,103,-103,38,468,955)"/>
<use href="#e" transform="matrix(65,136,-136,65,468,955)"/>
<use href="#e" transform="matrix(-29,9,-9,-29,525,959)"/>
<use href="#e" transform="matrix(-34,-13,13,-34,559,972)"/>
<use href="#e" transform="matrix(8,36,-36,8,525,959)"/>
<use href="#e" transform="matrix(26,51,-51,26,525,959)"/>
<use href="#e" transform="matrix(-24,56,-56,-24,525,959)"/>
<use href="#e" transform="matrix(13,79,-79,13,525,959)"/>
<use href="#e" transform="matrix(-60,-78,78,-60,585,1037)"/>
<use href="#e" transform="matrix(-60,-115,115,-60,585,1074)"/>
<use href="#e" transform="matrix(8,132,-132,8,525,959)"/>
<use href="#e" transform="matrix(-47,-145,145,-47,572,1104)"/>
<use href="#e" transform="matrix(-63,-4,4,-63,559,972)"/>
<use href="#e" transform="matrix(-39,13,-13,-39,496,968)"/>
<use href="#e" transform="matrix(37,27,-27,37,496,968)"/>
<use href="#e" transform="matrix(5,47,-47,5,496,968)"/>
<use href="#e" transform="matrix(55,42,-42,55,496,968)"/>
<use href="#e" transform="matrix(-28,49,-49,-28,496,968)"/>
<use href="#e" transform="matrix(42,70,-70,42,496,968)"/>
<use href="#e" transform="matrix(10,90,-90,10,496,968)"/>
<use href="#e" transform="matrix(-26,23,-23,-26,559,972)"/>
<use href="#e" transform="matrix(-8,38,-38,-8,559,972)"/>
<use href="#e" transform="matrix(-21,66,-66,-21,559,972)"/>
<use href="#e" transform="matrix(-26,-65,65,-26,585,1037)"/>
<use href="#e" transform="matrix(-26,-102,102,-26,585,1074)"/>
<use href="#e" transform="matrix(-58,43,-43,-58,559,972)"/>
<use href="#e" transform="matrix(-13,-132,132,-13,572,1104)"/>
<use href="#e" transform="matrix(-35,15,-15,-35,457,981)"/>
<use href="#e" transform="matrix(11,36,-36,11,457,981)"/>
<use href="#e" transform="matrix(44,34,-34,44,457,981)"/>
<use href="#e" transform="matrix(-4,52,-52,-4,457,981)"/>
<use href="#e" transform="matrix(76,14,-14,76,457,981)"/>
<use href="#e" transform="matrix(49,77,-77,49,457,981)"/>
<use href="#e" transform="matrix(18,15,-15,18,533,995)"/>
<use href="#e" transform="matrix(-32,20,-20,-32,533,995)"/>
<use href="#e" transform="matrix(5,43,-43,5,533,995)"/>
<use href="#e" transform="matrix(52,42,-42,52,533,995)"/>
<use href="#e" transform="matrix(-52,-79,79,-52,585,1074)"/>
<use href="#e" transform="matrix(0,96,-96,0,533,995)"/>
<use href="#e" transform="matrix(-39,-109,109,-39,572,1104)"/>
<use href="#e" transform="matrix(-50,-137,137,-50,583,1132)"/>
<use href="#e" transform="matrix(-26,-164,164,-26,559,1159)"/>
<use href="#e" transform="matrix(-27,63,-63,-27,533,995)"/>
<use href="#e" transform="matrix(-53,97,-97,-53,533,995)"/>
<use href="#e" transform="matrix(46,21,-21,46,422,996)"/>
<use href="#e" transform="matrix(31,37,-37,31,422,996)"/>
<use href="#e" transform="matrix(21,46,-46,21,422,996)"/>
<use href="#e" transform="matrix(-24,53,-53,-24,422,996)"/>
<use href="#e" transform="matrix(79,19,-19,79,422,996)"/>
<use href="#e" transform="matrix(-84,41,-41,-84,422,996)"/>
<use href="#e" transform="matrix(-30,92,-92,-30,422,996)"/>
<use href="#e" transform="matrix(58,96,-96,58,422,996)"/>
<use href="#e" transform="matrix(-50,5,-5,-50,551,1010)"/>
<use href="#e" transform="matrix(-13,28,-28,-13,551,1010)"/>
<use href="#e" transform="matrix(-34,-27,27,-34,585,1037)"/>
<use href="#e" transform="matrix(-34,-64,64,-34,585,1074)"/>
<use href="#e" transform="matrix(-21,-94,94,-21,572,1104)"/>
<use href="#e" transform="matrix(-32,-122,122,-32,583,1132)"/>
<use href="#e" transform="matrix(-18,81,-81,-18,551,1010)"/>
<use href="#e" transform="matrix(-8,-149,149,-8,559,1159)"/>
<use href="#e" transform="matrix(33,-2,2,33,468,1017)"/>
<use href="#e" transform="matrix(-15,16,-16,-15,468,1017)"/>
<use href="#e" transform="matrix(-25,25,-25,-25,468,1017)"/>
<use href="#e" transform="matrix(38,41,-41,38,468,1017)"/>
<use href="#e" transform="matrix(12,75,-75,12,468,1017)"/>
<use href="#e" transform="matrix(-25,91,-91,-25,468,1017)"/>
<use href="#e" transform="matrix(65,74,-74,65,468,1017)"/>
<use href="#e" transform="matrix(70,21,-21,70,468,1017)"/>
<use href="#e" transform="matrix(37,23,-23,37,501,1015)"/>
<use href="#e" transform="matrix(5,43,-43,5,501,1015)"/>
<use href="#e" transform="matrix(32,76,-76,32,501,1015)"/>
<use href="#e" transform="matrix(-21,77,-77,-21,501,1015)"/>
<use href="#e" transform="matrix(84,22,-22,84,501,1015)"/>
<use href="#e" transform="matrix(84,59,-59,84,501,1015)"/>
<use href="#e" transform="matrix(71,89,-89,71,501,1015)"/>
<use href="#e" transform="matrix(-14,131,-131,-14,501,1015)"/>
<use href="#e" transform="matrix(25,-23,23,25,338,1037)"/>
<use href="#e" transform="matrix(60,12,-12,60,338,1037)"/>
<use href="#e" transform="matrix(19,42,-42,19,338,1037)"/>
<use href="#e" transform="matrix(54,51,-51,54,338,1037)"/>
<use href="#e" transform="matrix(-25,50,-50,-25,338,1037)"/>
<use href="#e" transform="matrix(105,5,-5,105,338,1037)"/>
<use href="#e" transform="matrix(115,-4,4,115,338,1037)"/>
<use href="#e" transform="matrix(7,90,-90,7,338,1037)"/>
<use href="#e" transform="matrix(105,71,-71,105,338,1037)"/>
<use href="#e" transform="matrix(117,115,-115,117,338,1037)"/>
<use href="#e" transform="matrix(59,-18,18,59,363,1014)"/>
<use href="#e" transform="matrix(35,35,-35,35,363,1014)"/>
<use href="#e" transform="matrix(-6,65,-65,-6,363,1014)"/>
<use href="#e" transform="matrix(-50,73,-73,-50,363,1014)"/>
<use href="#e" transform="matrix(29,74,-74,29,363,1014)"/>
<use href="#e" transform="matrix(-10,9,-9,-10,453,1033)"/>
<use href="#e" transform="matrix(53,25,-25,53,453,1033)"/>
<use href="#e" transform="matrix(27,59,-59,27,453,1033)"/>
<use href="#e" transform="matrix(-10,75,-75,-10,453,1033)"/>
<use href="#e" transform="matrix(80,58,-58,80,453,1033)"/>
<use href="#e" transform="matrix(-61,55,-55,-61,453,1033)"/>
<use href="#e" transform="matrix(-55,16,-16,-55,453,1033)"/>
<use href="#e" transform="matrix(85,5,-5,85,453,1033)"/>
<use href="#e" transform="matrix(-45,7,-7,-45,443,1042)"/>
<use href="#e" transform="matrix(-51,46,-46,-51,443,1042)"/>
<use href="#e" transform="matrix(0,66,-66,0,443,1042)"/>
<use href="#e" transform="matrix(37,50,-50,37,443,1042)"/>
<use href="#e" transform="matrix(63,16,-16,63,443,1042)"/>
<use href="#e" transform="matrix(-86,37,-37,-86,443,1042)"/>
<use href="#e" transform="matrix(47,-1,1,47,538,1038)"/>
<use href="#e" transform="matrix(47,36,-36,47,538,1038)"/>
<use href="#e" transform="matrix(-32,20,-20,-32,538,1038)"/>
<use href="#e" transform="matrix(-5,53,-53,-5,538,1038)"/>
<use href="#e" transform="matrix(34,66,-66,34,538,1038)"/>
<use href="#e" transform="matrix(-45,-94,94,-45,583,1132)"/>
<use href="#e" transform="matrix(-21,-121,121,-21,559,1159)"/>
<use href="#e" transform="matrix(-58,54,-54,-58,538,1038)"/>
<use href="#e" transform="matrix(0,-37,37,0,585,1074)"/>
<use href="#e" transform="matrix(-13,67,-67,-13,585,1037)"/>
<use href="#e" transform="matrix(2,-95,95,2,583,1132)"/>
<use href="#e" transform="matrix(26,-122,122,26,559,1159)"/>
<use href="#e" transform="matrix(-52,54,-54,-52,585,1037)"/>
<use href="#e" transform="matrix(-41,30,-30,-41,398,1049)"/>
<use href="#e" transform="matrix(-6,39,-39,-6,398,1049)"/>
<use href="#e" transform="matrix(45,59,-59,45,398,1049)"/>
<use href="#e" transform="matrix(82,43,-43,82,398,1049)"/>
<use href="#e" transform="matrix(-85,38,-38,-85,398,1049)"/>
<use href="#e" transform="matrix(-53,78,-78,-53,398,1049)"/>
<use href="#e" transform="matrix(9,94,-94,9,398,1049)"/>
<use href="#e" transform="matrix(-26,34,-34,-26,506,1058)"/>
<use href="#e" transform="matrix(27,33,-33,27,506,1058)"/>
<use href="#e" transform="matrix(-63,50,-50,-63,506,1058)"/>
<use href="#e" transform="matrix(79,16,-16,79,506,1058)"/>
<use href="#e" transform="matrix(66,46,-46,66,506,1058)"/>
<use href="#e" transform="matrix(-19,88,-88,-19,506,1058)"/>
<use href="#e" transform="matrix(53,101,-101,53,506,1058)"/>
<use href="#e" transform="matrix(-51,94,-94,-51,506,1058)"/>
<use href="#e" transform="matrix(35,9,-9,35,357,1079)"/>
<use href="#e" transform="matrix(-44,8,-8,-44,357,1079)"/>
<use href="#e" transform="matrix(-12,48,-48,-12,357,1079)"/>
<use href="#e" transform="matrix(50,64,-64,50,357,1079)"/>
<use href="#e" transform="matrix(86,29,-29,86,357,1079)"/>
<use href="#e" transform="matrix(-13,30,-30,-13,585,1074)"/>
<use href="#e" transform="matrix(2,-58,58,2,583,1132)"/>
<use href="#e" transform="matrix(26,-85,85,26,559,1159)"/>
<use href="#e" transform="matrix(-52,17,-17,-52,585,1074)"/>
<use href="#e" transform="matrix(-98,72,-72,-98,585,1074)"/>
<use href="#e" transform="matrix(79,1,-1,79,313,1087)"/>
<use href="#e" transform="matrix(32,40,-40,32,313,1087)"/>
<use href="#e" transform="matrix(54,82,-82,54,313,1087)"/>
<use href="#e" transform="matrix(94,56,-56,94,313,1087)"/>
<use href="#e" transform="matrix(51,20,-20,51,392,1088)"/>
<use href="#e" transform="matrix(88,4,-4,88,392,1088)"/>
<use href="#e" transform="matrix(-47,39,-39,-47,392,1088)"/>
<use href="#e" transform="matrix(15,55,-55,15,392,1088)"/>
<use href="#e" transform="matrix(63,64,-64,63,392,1088)"/>
<use href="#e" transform="matrix(-25,81,-81,-25,392,1088)"/>
<use href="#e" transform="matrix(95,58,-58,95,392,1088)"/>
<use href="#e" transform="matrix(53,-1,1,53,480,1092)"/>
<use href="#e" transform="matrix(-37,16,-16,-37,480,1092)"/>
<use href="#e" transform="matrix(-25,60,-60,-25,480,1092)"/>
<use href="#e" transform="matrix(7,54,-54,7,480,1092)"/>
<use href="#e" transform="matrix(79,67,-67,79,480,1092)"/>
<use href="#e" transform="matrix(92,12,-12,92,480,1092)"/>
<use href="#e" transform="matrix(-73,51,-51,-73,480,1092)"/>
<use href="#e" transform="matrix(103,40,-40,103,480,1092)"/>
<use href="#e" transform="matrix(39,13,-13,39,533,1091)"/>
<use href="#e" transform="matrix(50,41,-41,50,533,1091)"/>
<use href="#e" transform="matrix(26,68,-68,26,533,1091)"/>
<use href="#e" transform="matrix(-46,55,-55,-46,533,1091)"/>
<use href="#e" transform="matrix(-78,61,-61,-78,533,1091)"/>
<use href="#e" transform="matrix(-90,17,-17,-90,533,1091)"/>
<use href="#e" transform="matrix(-11,-28,28,-11,583,1132)"/>
<use href="#e" transform="matrix(-13,55,-55,-13,572,1104)"/>
<use href="#e" transform="matrix(-85,42,-42,-85,572,1104)"/>
<use href="#e" transform="matrix(-117,48,-48,-117,572,1104)"/>
<use href="#e" transform="matrix(12,44,-44,12,443,1108)"/>
<use href="#e" transform="matrix(44,38,-38,44,443,1108)"/>
<use href="#e" transform="matrix(-36,35,-35,-36,443,1108)"/>
<use href="#e" transform="matrix(-76,61,-61,-76,443,1108)"/>
<use href="#e" transform="matrix(-98,19,-19,-98,443,1108)"/>
<use href="#e" transform="matrix(22,99,-99,22,443,1108)"/>
<use href="#e" transform="matrix(24,-27,27,24,559,1159)"/>
<use href="#e" transform="matrix(-96,14,-14,-96,583,1132)"/>
<use href="#e" transform="matrix(-128,20,-20,-128,583,1132)"/>
<use href="#e" transform="matrix(62,16,-16,62,345,1127)"/>
<use href="#e" transform="matrix(22,42,-42,22,345,1127)"/>
<use href="#e" transform="matrix(110,25,-25,110,345,1127)"/>
<use href="#e" transform="matrix(48,9,-9,48,407,1143)"/>
<use href="#e" transform="matrix(-40,26,-26,-40,407,1143)"/>
<use href="#e" transform="matrix(80,3,-3,80,407,1143)"/>
<use href="#e" transform="matrix(32,-6,6,32,455,1152)"/>
<use href="#e" transform="matrix(10,55,-55,10,455,1152)"/>
<use href="#e" transform="matrix(104,7,-7,104,455,1152)"/>
<use href="#e" transform="matrix(88,-17,17,88,367,1169)"/>
<use href="#e" transform="matrix(72,13,-13,72,487,1146)"/>
<use href="#e" transform="matrix(-22,61,-61,-22,487,1146)"/>
<use href="#e" transform="matrix(120,-23,23,120,367,1169)"/>
<use href="#e" transform="matrix(83,-5,5,83,255,1042)"/>
<use href="#e" transform="matrix(-108,28,-28,-108,363,1014)"/>
<use href="#e" transform="matrix(-82,-46,46,-82,210,1101)"/>
<use href="#e" transform="matrix(-38,45,-45,-38,66,1079)"/>
<use href="#e" transform="matrix(-153,7,-7,-153,210,1101)"/>
<use href="#e" transform="matrix(11,58,-58,11,28,1124)"/>
<use href="#e" transform="matrix(52,8,-8,52,39,1182)"/>
<use href="#e" transform="matrix(-24,95,-95,-24,210,1101)"/>
<use href="#e" transform="matrix(79,171,-171,79,210,1101)"/>
<use href="#e" transform="matrix(18,138,-138,18,210,1101)"/>
<use href="#e" transform="matrix(-48,66,-66,-48,139,1124)"/>
<use href="#e" transform="matrix(47,72,-72,47,139,1124)"/>
<use href="#e" transform="matrix(-95,-6,6,-95,186,1196)"/>
<use href="#e" transform="matrix(6,57,-57,6,91,1190)"/>
<use href="#e" transform="matrix(19,104,-104,19,91,1190)"/>
<use href="#e" transform="matrix(72,71,-71,72,91,1190)"/>
<use href="#e" transform="matrix(-89,51,-51,-89,186,1196)"/>
<use href="#e" transform="matrix(103,76,-76,103,186,1196)"/>
<use href="#e" transform="matrix(66,14,-14,66,97,1247)"/>
<use href="#e" transform="matrix(-47,66,-66,-47,91,1190)"/>
<use href="#e" transform="matrix(-6,40,-40,-6,110,1294)"/>
<use href="#e" transform="matrix(53,-33,33,53,110,1294)"/>
<use href="#e" transform="matrix(85,64,-64,85,163,1261)"/>
<use href="#e" transform="matrix(56,19,-19,56,192,1306)"/>
<use href="#e" transform="matrix(-29,-45,45,-29,192,1306)"/>
<use href="#e" transform="matrix(20,86,-86,20,228,1239)"/>
<use href="#e" transform="matrix(61,33,-33,61,228,1239)"/>
<use href="#e" transform="matrix(-56,110,-110,-56,304,1215)"/>
<use href="#e" transform="matrix(-76,24,-24,-76,304,1215)"/>
<use href="#e" transform="matrix(-41,53,-53,-41,289,1272)"/>
<use href="#e" transform="matrix(41,-53,53,41,248,1325)"/>
<use href="#e" transform="matrix(77,-13,13,77,289,1272)"/>
<use href="#e" transform="matrix(-67,-43,43,-67,433,1302)"/>
<use href="#e" transform="matrix(82,22,-22,82,289,1272)"/>
<use href="#e" transform="matrix(-55,-81,81,-55,344,1353)"/>
<use href="#e" transform="matrix(13,92,-92,13,289,1272)"/>
<use href="#e" transform="matrix(-16,105,-105,-16,289,1272)"/>
<use href="#e" transform="matrix(-123,31,-31,-123,371,1294)"/>
<use href="#e" transform="matrix(69,-70,70,69,302,1364)"/>
<use href="#e" transform="matrix(27,-59,59,27,344,1353)"/>
<use href="#e" transform="matrix(-96,-28,28,-96,344,1353)"/>
<use href="#e" transform="matrix(-54,-39,39,-54,302,1364)"/>
<use href="#e" transform="matrix(-25,-52,52,-25,273,1377)"/>
<use href="#e" transform="matrix(29,-13,13,29,273,1377)"/>
<use href="#e" transform="matrix(39,-47,47,39,209,1372)"/>
<use href="#e" transform="matrix(91,-7,7,91,157,1332)"/>
<use href="#e" transform="matrix(96,28,-28,96,248,1325)"/>
<use href="#e" transform="matrix(-36,26,-26,-36,268,1143)"/>
<use href="#e" transform="matrix(22,68,-68,22,210,1101)"/>
</g>
<g id="edges-C-blue-inner" class="eb" stroke-width="3">
<use href="#e" transform="matrix(-12,33,-33,-12,434,963)"/>
<use href="#e" transform="matrix(-11,26,-26,-11,468,955)"/>
<use href="#e" transform="matrix(5,47,-47,5,496,968)"/>
</g>
</g>
<g id="nodes-A" class="t la">
<g id="A-ASV247"><circle cx="224" cy="66" r="7"/><text x="218" y="91">ASV247</text></g>
<g id="A-ASV15"><circle cx="146" cy="155" r="23"/><text x="176" y="169" class="gr">ASV15</text></g>
<g id="A-ASV40"><circle cx="88" cy="229" r="8"/><text x="63" y="219" class="rd">ASV40</text></g>
<g id="A-ASV160"><circle cx="172" cy="248" r="8"/><text x="179" y="255">ASV160</text></g>
<g id="A-ASV308"><circle cx="20" cy="276" r="8"/><text x="-2" y="271" class="rd">ASV308</text></g>
<g id="A-ASV116"><circle cx="128" cy="301" r="8"/><text x="122" y="294">ASV116</text></g>
<g id="A-ASV170"><circle cx="72" cy="318" r="9"/><text x="75" y="337" class="rd">ASV170</text></g>
<g id="A-ASV173"><circle cx="198" cy="312" r="8"/><text x="178" y="337" class="rd">ASV173</text></g>
<g id="A-ASV95"><circle cx="22" cy="354" r="11"/><text x="2" y="375" class="rd">ASV95</text></g>
<g id="A-ASV135"><circle cx="157" cy="376" r="10"/><text x="117" y="398" class="rd">ASV135</text></g>
<g id="A-ASV345"><circle cx="68" cy="398" r="8"/><text x="38" y="424" class="rd">ASV345</text></g>
<g id="A-ASV278"><circle cx="84" cy="470" r="7"/><text x="95" y="478">ASV278</text></g>
<g id="A-ASV22"><circle cx="191" cy="502" r="16"/><text x="136" y="536" class="gr">ASV22</text></g>
<g id="A-ASV307"><circle cx="423" cy="65" r="7"/><text x="435" y="81">ASV307</text></g>
<g id="A-ASV2"><circle cx="365" cy="140" r="20"/><text x="287" y="139" class="rd">ASV2</text></g>
<g id="A-ASV110"><circle cx="431" cy="121" r="8"/><text x="438" y="128">ASV110</text></g>
<g id="A-ASV212"><circle cx="532" cy="130" r="7"/><text x="531" y="155">ASV212</text></g>
<g id="A-ASV252"><circle cx="475" cy="168" r="7"/><text x="480" y="183">ASV252</text></g>
<g id="A-ASV166"><circle cx="367" cy="199" r="8"/><text x="380" y="206">ASV166</text></g>
<g id="A-ASV361"><circle cx="503" cy="213" r="7"/><text x="508" y="220">ASV361</text></g>
<g id="A-ASV250"><circle cx="313" cy="236" r="7"/><text x="320" y="242">ASV250</text></g>
<g id="A-ASV263"><circle cx="411" cy="273" r="7"/><text x="420" y="282">ASV263</text></g>
<g id="A-ASV246"><circle cx="306" cy="313" r="7"/><text x="295" y="337">ASV246</text></g>
<g id="A-ASV113"><circle cx="389" cy="328" r="10"/><text x="398" y="337" class="gr">ASV113</text></g>
<g id="A-ASV378"><circle cx="537" cy="327" r="7"/><text x="541" y="337">ASV378</text></g>
<g id="A-ASV295"><circle cx="461" cy="357" r="7"/><text x="467" y="392">ASV295</text></g>
<g id="A-ASV219"><circle cx="300" cy="390" r="8"/><text x="246" y="409">ASV219</text></g>
<g id="A-ASV423"><circle cx="347" cy="414" r="7"/><text x="360" y="424">ASV423</text></g>
<g id="A-ASV424"><circle cx="282" cy="443" r="7"/><text x="286" y="478">ASV424</text></g>
<g id="A-ASV172"><circle cx="494" cy="451" r="9"/><text x="502" y="458">ASV172</text></g>
<g id="A-ASV106"><circle cx="381" cy="476" r="10"/><text x="390" y="485" class="rd">ASV106</text></g>
<g id="A-ASV158"><circle cx="327" cy="499" r="9"/><text x="328" y="517" class="rd">ASV158</text></g>
<g id="A-ASV273"><circle cx="489" cy="499" r="7"/><text x="502" y="509">ASV273</text></g>
<g id="A-ASV394"><circle cx="251" cy="509" r="7"/><text x="231" y="534">ASV394</text></g>
<g id="A-ASV214"><circle cx="438" cy="516" r="8"/><text x="446" y="530" class="rd">ASV214</text></g>
<g id="A-ASV253"><circle cx="416" cy="539" r="7"/><text x="398" y="564">ASV253</text></g>
<g id="A-ASV184"><circle cx="572" cy="543" r="7"/><text x="558" y="570">ASV184</text></g>
<g id="A-ASV132"><circle cx="353" cy="571" r="10"/><text x="330" y="597" class="rd">ASV132</text></g>
<g id="A-ASV94"><circle cx="516" cy="575" r="11"/><text x="517" y="604" class="rd">ASV94</text></g>
<g id="A-ASV238"><circle cx="435" cy="598" r="7"/><text x="420" y="620">ASV238</text></g>
</g>
<g id="nodes-B" class="t lb">
<g id="B-ASV82"><circle cx="738" cy="59" r="7"/><text x="743" y="88">ASV82</text></g>
<g id="B-ASV62"><circle cx="827" cy="61" r="7"/><text x="823" y="82">ASV62</text></g>
<g id="B-ASV77"><circle cx="903" cy="52" r="7"/><text x="909" y="57" class="tl">ASV77</text></g>
<g id="B-ASV16"><circle cx="952" cy="71" r="9"/><text x="960" y="71" class="tl">ASV16</text></g>
<g id="B-ASV27"><circle cx="978" cy="92" r="7"/><text x="984" y="92">ASV27</text></g>
<g id="B-ASV40"><circle cx="1095" cy="93" r="7"/><text x="1083" y="84">ASV40</text></g>
<g id="B-ASV116"><circle cx="1129" cy="124" r="7"/><text x="1141" y="130">ASV116</text></g>
<g id="B-ASV160"><circle cx="1087" cy="143" r="7"/><text x="1091" y="156">ASV160</text></g>
<g id="B-ASV236"><circle cx="727" cy="94" r="7"/><text x="731" y="121">ASV236</text></g>
<g id="B-ASV122"><circle cx="838" cy="115" r="7"/><text x="818" y="135">ASV122</text></g>
<g id="B-ASV51"><circle cx="886" cy="108" r="7"/><text x="893" y="115" class="tl">ASV51</text></g>
<g id="B-ASV233"><circle cx="997" cy="117" r="7"/><text x="1001" y="129">ASV233</text></g>
<g id="B-ASV36"><circle cx="795" cy="144" r="7"/><text x="801" y="151" class="tl">ASV36</text></g>
<g id="B-ASV9"><circle cx="996" cy="157" r="9"/><text x="1004" y="163">ASV9</text></g>
<g id="B-ASV1"><circle cx="913" cy="171" r="16"/><text x="884" y="178" class="tl">ASV1</text></g>
<g id="B-ASV242"><circle cx="768" cy="166" r="7"/><text x="743" y="182">ASV242</text></g>
<g id="B-ASV76"><circle cx="963" cy="170" r="7"/><text x="950" y="187">ASV76</text></g>
<g id="B-ASV86"><circle cx="1051" cy="175" r="7"/><text x="1055" y="192">ASV86</text></g>
<g id="B-ASV79"><circle cx="721" cy="190" r="7"/><text x="694" y="210">ASV79</text></g>
<g id="B-ASV179"><circle cx="843" cy="182" r="7"/><text x="827" y="198">ASV179</text></g>
<g id="B-ASV108"><circle cx="993" cy="198" r="7"/><text x="995" y="214">ASV108</text></g>
<g id="B-ASV45"><circle cx="940" cy="224" r="7"/><text x="943" y="230">ASV45</text></g>
<g id="B-ASV89"><circle cx="792" cy="228" r="7"/><text x="797" y="237" class="mg">ASV89</text></g>
<g id="B-ASV100"><circle cx="1157" cy="260" r="7"/><text x="1145" y="255">ASV100</text></g>
<g id="B-ASV58"><circle cx="894" cy="250" r="7"/><text x="865" y="268">ASV58</text></g>
<g id="B-ASV15"><circle cx="977" cy="263" r="7"/><text x="968" y="261" class="bl">ASV15</text></g>
<g id="B-ASV22"><circle cx="1042" cy="264" r="7"/><text x="1043" y="269" class="bl">ASV22</text></g>
<g id="B-ASV186"><circle cx="1105" cy="266" r="7"/><text x="1095" y="283">ASV186</text></g>
<g id="B-ASV37"><circle cx="727" cy="281" r="7"/><text x="699" y="293">ASV37</text></g>
<g id="B-ASV152"><circle cx="776" cy="285" r="7"/><text x="755" y="307">ASV152</text></g>
<g id="B-ASV97"><circle cx="836" cy="290" r="7"/><text x="820" y="299">ASV97</text></g>
<g id="B-ASV41"><circle cx="941" cy="302" r="7"/><text x="930" y="313" class="bl">ASV41</text></g>
<g id="B-ASV13"><circle cx="1012" cy="311" r="7"/><text x="1007" y="320" class="bl">ASV13</text></g>
<g id="B-ASV20"><circle cx="1067" cy="297" r="7"/><text x="1073" y="307" class="bl">ASV20</text></g>
<g id="B-ASV18"><circle cx="837" cy="331" r="8"/><text x="826" y="337" class="mg">ASV18</text></g>
<g id="B-ASV57"><circle cx="897" cy="327" r="7"/><text x="890" y="337">ASV57</text></g>
<g id="B-ASV107"><circle cx="988" cy="343" r="7"/><text x="992" y="341">ASV107</text></g>
<g id="B-ASV128"><circle cx="1052" cy="340" r="7"/><text x="1055" y="348">ASV128</text></g>
<g id="B-ASV230"><circle cx="1156" cy="346" r="7"/><text x="1160" y="358">ASV230</text></g>
<g id="B-ASV84"><circle cx="786" cy="353" r="7"/><text x="766" y="376">ASV84</text></g>
<g id="B-ASV35"><circle cx="858" cy="357" r="7"/><text x="840" y="368">ASV35</text></g>
<g id="B-ASV4"><circle cx="958" cy="355" r="8"/><text x="936" y="361" class="bl">ASV4</text></g>
<g id="B-ASV52"><circle cx="1015" cy="356" r="7"/><text x="1016" y="367">ASV52</text></g>
<g id="B-ASV19"><circle cx="925" cy="387" r="7"/><text x="880" y="405">ASV19</text></g>
<g id="B-ASV133"><circle cx="973" cy="383" r="7"/><text x="956" y="404">ASV133</text></g>
<g id="B-ASV232"><circle cx="1089" cy="392" r="7"/><text x="1094" y="399">ASV232</text></g>
<g id="B-ASV42"><circle cx="1060" cy="407" r="7"/><text x="1044" y="415">ASV42</text></g>
<g id="B-ASV195"><circle cx="1161" cy="414" r="7"/><text x="1166" y="420">ASV195</text></g>
<g id="B-ASV170"><circle cx="773" cy="413" r="7"/><text x="776" y="420">ASV170</text></g>
<g id="B-ASV135"><circle cx="844" cy="431" r="7"/><text x="830" y="448">ASV135</text></g>
<g id="B-ASV23"><circle cx="1034" cy="428" r="7"/><text x="1020" y="438" class="mg">ASV23</text></g>
<g id="B-ASV21"><circle cx="1111" cy="444" r="9"/><text x="1083" y="436">ASV21</text></g>
<g id="B-ASV3"><circle cx="1150" cy="446" r="13"/><text x="1162" y="452" class="mg">ASV3</text></g>
<g id="B-ASV81"><circle cx="975" cy="455" r="7"/><text x="913" y="464">ASV81</text></g>
<g id="B-ASV90"><circle cx="1017" cy="452" r="7"/><text x="990" y="458">ASV90</text></g>
<g id="B-ASV80"><circle cx="1069" cy="451" r="7"/><text x="1050" y="458">ASV80</text></g>
<g id="B-ASV202"><circle cx="966" cy="478" r="7"/><text x="953" y="501">ASV202</text></g>
<g id="B-ASV53"><circle cx="1046" cy="492" r="7"/><text x="1034" y="500">ASV53</text></g>
<g id="B-ASV92"><circle cx="1105" cy="485" r="7"/><text x="1092" y="492">ASV92</text></g>
<g id="B-ASV66"><circle cx="1133" cy="502" r="7"/><text x="1118" y="511">ASV66</text></g>
<g id="B-ASV173"><circle cx="764" cy="493" r="7"/><text x="752" y="517" class="bl">ASV173</text></g>
<g id="B-ASV95"><circle cx="845" cy="500" r="7"/><text x="843" y="514" class="bl">ASV95</text></g>
<g id="B-ASV93"><circle cx="930" cy="507" r="7"/><text x="917" y="526">ASV93</text></g>
<g id="B-ASV32"><circle cx="1080" cy="517" r="7"/><text x="1056" y="524" class="mg">ASV32</text></g>
<g id="B-ASV70"><circle cx="1184" cy="517" r="7"/><text x="1184" y="523">ASV70</text></g>
<g id="B-ASV147"><circle cx="972" cy="540" r="7"/><text x="951" y="556">ASV147</text></g>
<g id="B-ASV144"><circle cx="1046" cy="556" r="7"/><text x="1028" y="562">ASV144</text></g>
<g id="B-ASV74"><circle cx="1102" cy="552" r="7"/><text x="1092" y="558">ASV74</text></g>
<g id="B-ASV34"><circle cx="1154" cy="560" r="7"/><text x="1162" y="574" class="mg">ASV34</text></g>
<g id="B-ASV64"><circle cx="897" cy="575" r="7"/><text x="836" y="584">ASV64</text></g>
<g id="B-ASV25"><circle cx="1046" cy="590" r="8"/><text x="1012" y="598" class="mg">ASV25</text></g>
<g id="B-ASV139"><circle cx="1076" cy="588" r="7"/><text x="1050" y="611">ASV139</text></g>
<g id="B-ASV7"><circle cx="1128" cy="588" r="9"/><text x="1112" y="594" class="mg">ASV7</text></g>
<g id="B-ASV48"><circle cx="981" cy="602" r="7"/><text x="927" y="621" class="tl">ASV48</text></g>
</g>
<g id="nodes-C" class="t lb">
<g id="C-ASV25"><circle cx="308" cy="675" r="7"/><text x="252" y="685" class="mg">ASV25</text></g>
<g id="C-ASV139"><circle cx="377" cy="695" r="7"/><text x="380" y="704">ASV139</text></g>
<g id="C-ASV7"><circle cx="330" cy="722" r="9"/><text x="327" y="727" class="mg">ASV7</text></g>
<g id="C-ASV147"><circle cx="452" cy="733" r="7"/><text x="456" y="741">ASV147</text></g>
<g id="C-ASV26"><circle cx="411" cy="741" r="7"/><text x="385" y="754" class="mg">ASV26</text></g>
<g id="C-ASV74"><circle cx="275" cy="758" r="7"/><text x="256" y="764">ASV74</text></g>
<g id="C-ASV86"><circle cx="174" cy="776" r="7"/><text x="160" y="769">ASV86</text></g>
<g id="C-ASV32"><circle cx="326" cy="777" r="7"/><text x="312" y="783" class="mg">ASV32</text></g>
<g id="C-ASV66"><circle cx="386" cy="786" r="7"/><text x="377" y="793">ASV66</text></g>
<g id="C-ASV70"><circle cx="482" cy="781" r="7"/><text x="485" y="789">ASV70</text></g>
<g id="C-ASV195"><circle cx="126" cy="822" r="7"/><text x="80" y="814">ASV195</text></g>
<g id="C-ASV53"><circle cx="438" cy="811" r="7"/><text x="422" y="816">ASV53</text></g>
<g id="C-ASV80"><circle cx="295" cy="828" r="7"/><text x="281" y="833">ASV80</text></g>
<g id="C-ASV42"><circle cx="352" cy="825" r="7"/><text x="345" y="832">ASV42</text></g>
<g id="C-ASV92"><circle cx="394" cy="843" r="7"/><text x="390" y="849">ASV92</text></g>
<g id="C-ASV34"><circle cx="485" cy="839" r="7"/><text x="490" y="843" class="mg">ASV34</text></g>
<g id="C-ASV232"><circle cx="225" cy="849" r="7"/><text x="220" y="857">ASV232</text></g>
<g id="C-ASV108"><circle cx="166" cy="871" r="7"/><text x="148" y="876">ASV108</text></g>
<g id="C-ASV144"><circle cx="483" cy="869" r="7"/><text x="487" y="877">ASV144</text></g>
<g id="C-ASV23"><circle cx="249" cy="887" r="7"/><text x="228" y="890" class="mg">ASV23</text></g>
<g id="C-ASV90"><circle cx="290" cy="885" r="7"/><text x="284" y="890">ASV90</text></g>
<g id="C-ASV21"><circle cx="344" cy="879" r="7"/><text x="347" y="886">ASV21</text></g>
<g id="C-ASV3"><circle cx="426" cy="881" r="12"/><text x="411" y="893" class="mg">ASV3</text></g>
<g id="C-ASV88"><circle cx="86" cy="930" r="7"/><text x="38" y="922">ASV88</text></g>
<g id="C-ASV81"><circle cx="278" cy="913" r="7"/><text x="272" y="919">ASV81</text></g>
<g id="C-ASV93"><circle cx="237" cy="934" r="7"/><text x="227" y="941">ASV93</text></g>
<g id="C-ASV76"><circle cx="152" cy="945" r="7"/><text x="148" y="960">ASV76</text></g>
<g id="C-ASV115"><circle cx="468" cy="955" r="7"/><text x="462" y="949">ASV115</text></g>
<g id="C-ASV57"><circle cx="525" cy="959" r="7"/><text x="532" y="957">ASV57</text></g>
<g id="C-ASV52"><circle cx="404" cy="973" r="7"/><text x="353" y="968">ASV52</text></g>
<g id="C-ASV22"><circle cx="434" cy="963" r="7"/><text x="407" y="960" class="bl">ASV22</text></g>
<g id="C-ASV33"><circle cx="496" cy="968" r="7"/><text x="487" y="976">ASV33</text></g>
<g id="C-ASV163"><circle cx="559" cy="972" r="7"/><text x="562" y="978">ASV163</text></g>
<g id="C-ASV4"><circle cx="380" cy="995" r="10"/><text x="335" y="989" class="bl">ASV4</text></g>
<g id="C-ASV101"><circle cx="457" cy="981" r="7"/><text x="438" y="994">ASV101</text></g>
<g id="C-ASV31"><circle cx="27" cy="997" r="7"/><text x="38" y="999">ASV31</text></g>
<g id="C-ASV173"><circle cx="533" cy="995" r="7"/><text x="538" y="997" class="bl">ASV173</text></g>
<g id="C-ASV128"><circle cx="363" cy="1014" r="7"/><text x="302" y="1014">ASV128</text></g>
<g id="C-ASV107"><circle cx="422" cy="996" r="7"/><text x="400" y="1009">ASV107</text></g>
<g id="C-ASV47"><circle cx="551" cy="1010" r="7"/><text x="558" y="1018">ASV47</text></g>
<g id="C-ASV13"><circle cx="468" cy="1017" r="7"/><text x="415" y="1027">ASV13</text></g>
<g id="C-ASV135"><circle cx="501" cy="1015" r="7"/><text x="486" y="1021">ASV135</text></g>
<g id="C-ASV41"><circle cx="255" cy="1042" r="7"/><text x="201" y="1040" class="bl">ASV41</text></g>
<g id="C-ASV133"><circle cx="303" cy="1044" r="6" style="fill:#F4F40E"/><text x="265" y="1041">ASV133</text></g>
<g id="C-ASV19"><circle cx="338" cy="1037" r="7"/><text x="327" y="1046">ASV19</text></g>
<g id="C-ASV113"><circle cx="453" cy="1033" r="7"/><text x="457" y="1045">ASV113</text></g>
<g id="C-ASV96"><circle cx="443" cy="1042" r="7"/><text x="410" y="1056">ASV96</text></g>
<g id="C-ASV178"><circle cx="538" cy="1038" r="7"/><text x="532" y="1054">ASV178</text></g>
<g id="C-ASV131"><circle cx="585" cy="1037" r="7"/><text x="583" y="1044">ASV131</text></g>
<g id="C-ASV20"><circle cx="398" cy="1049" r="7"/><text x="355" y="1064" class="bl">ASV20</text></g>
<g id="C-ASV84"><circle cx="128" cy="1055" r="7"/><text x="130" y="1065">ASV84</text></g>
<g id="C-ASV24"><circle cx="506" cy="1058" r="7"/><text x="497" y="1072" class="bl">ASV24</text></g>
<g id="C-ASV190"><circle cx="66" cy="1079" r="7"/><text x="68" y="1088">ASV190</text></g>
<g id="C-ASV46"><circle cx="357" cy="1079" r="7"/><text x="332" y="1084" class="bl">ASV46</text></g>
<g id="C-ASV148"><circle cx="585" cy="1074" r="7"/><text x="580" y="1086">ASV148</text></g>
<g id="C-ASV186"><circle cx="313" cy="1087" r="7"/><text x="297" y="1104">ASV186</text></g>
<g id="C-ASV15"><circle cx="392" cy="1088" r="7"/><text x="382" y="1098" class="bl">ASV15</text></g>
<g id="C-ASV95"><circle cx="480" cy="1092" r="7"/><text x="452" y="1103" class="bl">ASV95</text></g>
<g id="C-ASV170"><circle cx="533" cy="1091" r="7"/><text x="503" y="1092">ASV170</text></g>
<g id="C-ASV152"><circle cx="210" cy="1101" r="7"/><text x="215" y="1108">ASV152</text></g>
<g id="C-ASV159"><circle cx="57" cy="1108" r="7"/><text x="58" y="1119">ASV159</text></g>
<g id="C-ASV160"><circle cx="572" cy="1104" r="7"/><text x="576" y="1112">ASV160</text></g>
<g id="C-ASV85"><circle cx="443" cy="1108" r="7"/><text x="420" y="1118">ASV85</text></g>
<g id="C-ASV44"><circle cx="28" cy="1124" r="7"/><text x="24" y="1142" class="tl">ASV44</text></g>
<g id="C-ASV236"><circle cx="139" cy="1124" r="7"/><text x="136" y="1139">ASV236</text></g>
<g id="C-ASV58"><circle cx="345" cy="1127" r="7"/><text x="334" y="1136">ASV58</text></g>
<g id="C-ASV116"><circle cx="583" cy="1132" r="7"/><text x="573" y="1140">ASV116</text></g>
<g id="C-ASV145"><circle cx="407" cy="1143" r="7"/><text x="369" y="1153">ASV145</text></g>
<g id="C-ASV89"><circle cx="455" cy="1152" r="7"/><text x="428" y="1161">ASV89</text></g>
<g id="C-ASV94"><circle cx="487" cy="1146" r="7"/><text x="483" y="1155">ASV94</text></g>
<g id="C-ASV97"><circle cx="268" cy="1143" r="7"/><text x="270" y="1159">ASV97</text></g>
<g id="C-ASV18"><circle cx="232" cy="1169" r="8"/><text x="209" y="1176" class="mg">ASV18</text></g>
<g id="C-ASV40"><circle cx="559" cy="1159" r="9"/><text x="518" y="1176">ASV40</text></g>
<g id="C-ASV154"><circle cx="367" cy="1169" r="7"/><text x="353" y="1184">ASV154</text></g>
<g id="C-ASV234"><circle cx="39" cy="1182" r="7"/><text x="30" y="1179">ASV234</text></g>
<g id="C-ASV67"><circle cx="91" cy="1190" r="8"/><text x="82" y="1199">ASV67</text></g>
<g id="C-ASV82"><circle cx="186" cy="1196" r="7"/><text x="187" y="1209">ASV82</text></g>
<g id="C-ASV63"><circle cx="465" cy="1207" r="7"/><text x="459" y="1224">ASV63</text></g>
<g id="C-ASV179"><circle cx="304" cy="1215" r="7"/><text x="307" y="1228">ASV179</text></g>
<g id="C-ASV9"><circle cx="228" cy="1239" r="10"/><text x="222" y="1258">ASV9</text></g>
<g id="C-ASV79"><circle cx="97" cy="1247" r="7"/><text x="100" y="1254">ASV79</text></g>
<g id="C-ASV242"><circle cx="44" cy="1256" r="7"/><text x="38" y="1272">ASV242</text></g>
<g id="C-ASV56"><circle cx="163" cy="1261" r="7"/><text x="163" y="1276">ASV56</text></g>
<g id="C-ASV48"><circle cx="366" cy="1259" r="7"/><text x="370" y="1267" class="tl">ASV48</text></g>
<g id="C-ASV62"><circle cx="289" cy="1272" r="8"/><text x="291" y="1282">ASV62</text></g>
<g id="C-ASV61"><circle cx="110" cy="1294" r="7"/><text x="113" y="1299">ASV61</text></g>
<g id="C-ASV36"><circle cx="371" cy="1294" r="9"/><text x="360" y="1310" class="tl">ASV36</text></g>
<g id="C-ASV64"><circle cx="433" cy="1302" r="7"/><text x="441" y="1308">ASV64</text></g>
<g id="C-ASV233"><circle cx="192" cy="1306" r="7"/><text x="175" y="1311">ASV233</text></g>
<g id="C-ASV1"><circle cx="248" cy="1325" r="17"/><text x="241" y="1330" class="tl">ASV1</text></g>
<g id="C-ASV72"><circle cx="104" cy="1334" r="7"/><text x="68" y="1354">ASV72</text></g>
<g id="C-ASV27"><circle cx="157" cy="1332" r="7"/><text x="146" y="1352">ASV27</text></g>
<g id="C-ASV51"><circle cx="344" cy="1353" r="7"/><text x="349" y="1358" class="tl">ASV51</text></g>
<g id="C-ASV16"><circle cx="302" cy="1364" r="9"/><text x="302" y="1378" class="tl">ASV16</text></g>
<g id="C-ASV45"><circle cx="209" cy="1372" r="7"/><text x="168" y="1392">ASV45</text></g>
<g id="C-ASV77"><circle cx="273" cy="1377" r="7"/><text x="246" y="1393" class="tl">ASV77</text></g>
</g>
<g id="legend" class="lg">
<text x="658" y="807">ASV1_Succinivibrionaceae_UBA2810</text>
<text x="658" y="833">ASV2_Prevotella_ruminicola</text>
<text x="658" y="859">ASV3_Acutalibacteraceae</text>
<text x="658" y="886">ASV4_SFMI01</text>
<text x="658" y="912">ASV7_Parafannyhessea_umbonata</text>
<text x="658" y="938">ASV13_Prevotella</text>
<text x="658" y="964">ASV15_Limivicinus</text>
<text x="658" y="990">ASV16_Prevotella_multisaccharivorax</text>
<text x="658" y="1016">ASV18_Anaerobutyricum_faecale</text>
<text x="658" y="1042">ASV20_Prevotella</text>
<text x="658" y="1069">ASV22_Mogibacterium</text>
<text x="658" y="1095">ASV23_CAG.791</text>
<text x="658" y="1121">ASV24_Prevotella_ruminicola</text>
<text x="658" y="1147">ASV25_Sharpea</text>
<text x="658" y="1173">ASV26_Bifidobacterium</text>
<text x="658" y="1199">ASV32_Porcincola_intestinalis</text>
<text x="658" y="1225">ASV34_Olsenella_porci</text>
<text x="658" y="1252">ASV36_CAG.791</text>
<text x="658" y="1278">ASV36_CAG-791</text>
<text x="967" y="807">ASV40_Carnobacteriaceae</text>
<text x="967" y="833">ASV41_Saccharofermentans</text>
<text x="967" y="859">ASV44_Treponema</text>
<text x="967" y="886">ASV46_Prevotella</text>
<text x="967" y="912">ASV48_UBA4334</text>
<text x="967" y="938">ASV51_Dialister_succinatiphilus</text>
<text x="967" y="964">ASV77_Mitsuokella_multacida</text>
<text x="967" y="990">ASV89_Prevotella_ruminicola</text>
<text x="967" y="1016">ASV94_Streptococcus_infantarius</text>
<text x="967" y="1042">ASV95_Planococcaceae</text>
<text x="967" y="1069">ASV106_Cryptobacteroides</text>
<text x="967" y="1095">ASV113_CAG-83</text>
<text x="967" y="1121">ASV132_Cryptobacteroides</text>
<text x="967" y="1147">ASV135_Planococcaceae</text>
<text x="967" y="1173">ASV158_Succiniclasticum_ruminis</text>
<text x="967" y="1199">ASV170_Psychrobacillus</text>
<text x="967" y="1225">ASV173_Solibacillus</text>
<text x="967" y="1252">ASV214_Succiniclasticum_ruminis</text>
<text x="967" y="1278">ASV345_Planococcus_donghaensis</text>
</g>
</svg>
